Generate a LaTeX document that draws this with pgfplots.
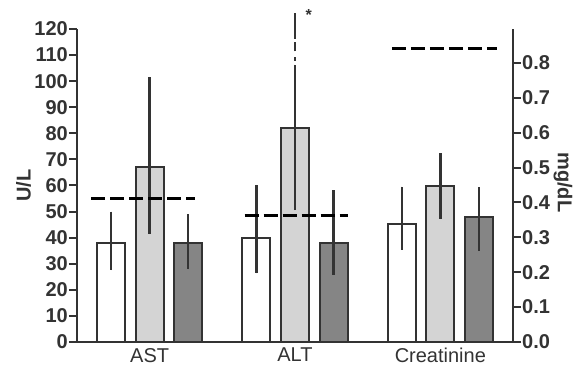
\documentclass[border=0pt]{standalone}
\usepackage{fontspec}
\setmainfont{Liberation Sans}
\usepackage{pgfplots}
\pgfplotsset{compat=1.18}
\definecolor{ink}{HTML}{333333}
\definecolor{lightbar}{HTML}{D4D4D4}
\definecolor{darkbar}{HTML}{858585}
\begin{document}
\begin{tikzpicture}
\path[use as bounding box] (-77pt,-27pt) rectangle (499pt,342pt);
\pgfplotsset{
 base/.style={at={(0pt,0pt)}, anchor=south west, scale only axis, width=436pt, height=313pt,
   xmin=-0.5, xmax=2.5, clip=false, /pgf/number format/assume math mode=true,
   tick align=outside, major tick length=8pt, tick style={line width=2pt, color=ink},
   axis line style={line width=2.5pt, color=ink},
   ticklabel style={font=\bfseries\fontsize{20}{20}\selectfont, color=ink}},
 bars/.style={ybar, bar width=28pt, bar shift=0pt, draw=ink, line width=2pt},
 errs/.style={error bars/.cd, y dir=both, y explicit, error mark=none, error bar style={line width=2.5pt, color=ink}},
 refl/.style={line width=3.5pt, black, dash pattern=on 14pt off 5pt, forget plot}
}
\begin{axis}[base, ymin=0, ymax=120, ytick={0,10,...,120},
  axis y line*=left, axis x line*=bottom,
  xtick={0,1,2}, xticklabels={AST,ALT,Creatinine},
  x tick style={draw=none},
  xticklabel style={font=\fontsize{20}{22}\selectfont, color=ink, anchor=north, inner sep=0pt, yshift=2pt},
  yticklabel style={inner sep=1pt},
  ylabel={U/L},
  ylabel style={at={(axis description cs:-0.1227,0.5)}, anchor=center, font=\bfseries\fontsize{20}{22}\selectfont, color=ink}]
\addplot[bars, fill=white, errs] coordinates {(-0.265,38) +=(0,12) -=(0,10.4) (0.735,40) +=(0,20.2) -=(0,13.7)};
\addplot[bars, fill=lightbar, errs] coordinates {(0,67.2) +=(0,34.4) -=(0,25.8) (1,82) +=(0,24.3) -=(0,31.4)};
\addplot[bars, fill=darkbar, errs] coordinates {(0.265,38) +=(0,11) -=(0,10.1) (1.265,38) +=(0,20.2) -=(0,12.3)};
\addplot[ink, line width=2.5pt, forget plot] coordinates {(1,107.8) (1,109.4)};
\addplot[ink, line width=2.5pt, forget plot] coordinates {(1,111.4) (1,115.2)};
\addplot[ink, line width=2.5pt, forget plot] coordinates {(1,116.2) (1,126.1)};
\addplot[refl] coordinates {(-0.402,55) (0.310,55)};
\addplot[refl] coordinates {(0.654,48.5) (1.365,48.5)};
\node[anchor=north, font=\bfseries\fontsize{16}{16}\selectfont, color=ink, inner sep=0pt] at (axis cs:1.094,127.5) {*};
\end{axis}
\begin{axis}[base, ymin=0, ymax=0.897, ytick={0,0.1,0.2,0.3,0.4,0.5,0.6,0.7,0.8},
  axis y line*=right, axis x line=none, xtick=\empty,
  yticklabel style={inner sep=1pt, /pgf/number format/.cd, fixed, fixed zerofill, precision=1},
  ylabel={mg/dL},
  every axis y label/.style={at={(axis description cs:1.1147,0.51)}, anchor=center, rotate=-90, font=\bfseries\fontsize{20}{22}\selectfont, color=ink}]
\addplot[bars, fill=white, errs] coordinates {(1.735,0.337) +=(0,0.108) -=(0,0.073)};
\addplot[bars, fill=lightbar, errs] coordinates {(2,0.448) +=(0,0.093) -=(0,0.096)};
\addplot[bars, fill=darkbar, errs] coordinates {(2.265,0.357) +=(0,0.086) -=(0,0.095)};
\addplot[refl] coordinates {(1.666,0.8415) (2.388,0.8415)};
\end{axis}
\end{tikzpicture}
\end{document}
